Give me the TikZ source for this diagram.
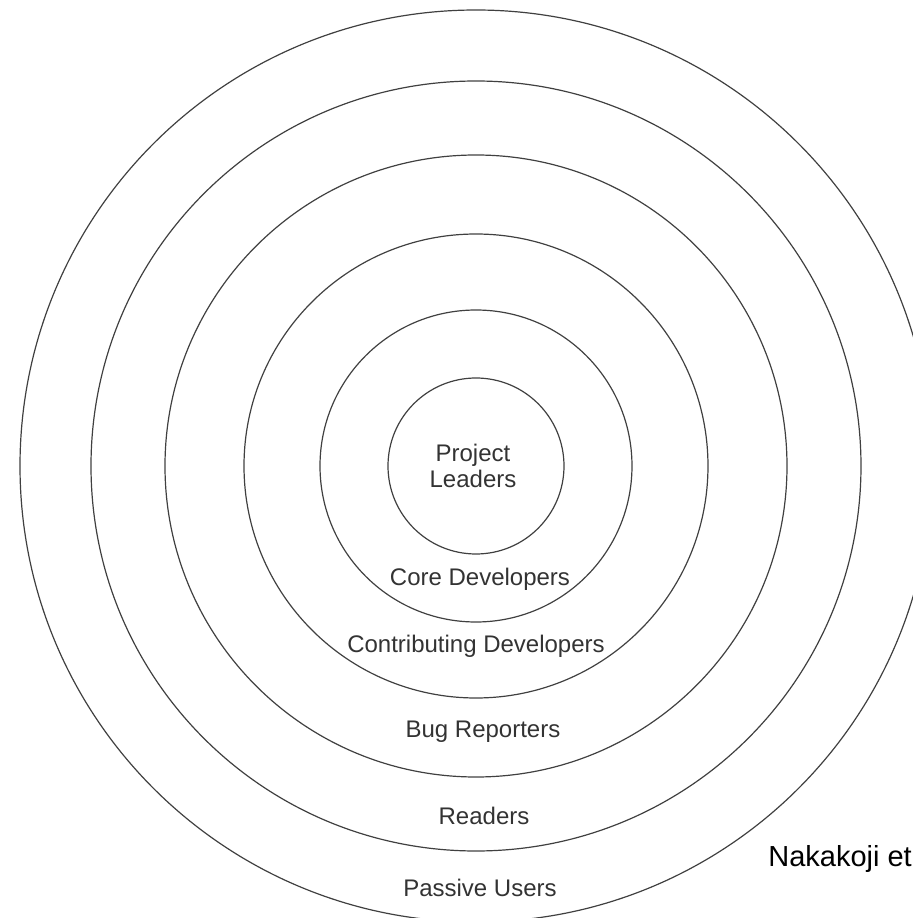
\documentclass[tikz,border=0pt]{standalone}
\usepackage{fontspec}
\setmainfont{Liberation Sans}
\usepackage{xcolor}
\usetikzlibrary{positioning}

\tikzset{
    ring/.style={draw=black!75, line width=0.6pt},
    layer/.style={text=black!80, font=\fontsize{12}{13}\selectfont, anchor=base, inner sep=0pt},
}

\begin{document}
\begin{tikzpicture}[x=0.5pt, y=0.5pt]
    % Page frame
    \useasboundingbox (0,0) rectangle (913,918);
    \clip (0,0) rectangle (913,918);

    % Rings of the onion
    \coordinate (ctr) at (476,452);
    \foreach \r in {88,156,232,311,385,456}
        \draw[ring] (ctr) circle (\r);

    % Layer labels
    \node[layer, align=center, anchor=center] (leaders) at (473,452) {Project\\Leaders};
    \node[layer] (core) at (480,332) {Core Developers};
    \node[layer] (contrib) at (476,265) {Contributing Developers};
    \node[layer] (bugs) at (483,180) {Bug Reporters};
    \node[layer] (readers) at (484,93) {Readers};
    \node[layer] (passive) at (480,21) {Passive Users};

    % Source note
    \node[anchor=base west, inner sep=0pt, font=\fontsize{14.5}{16}\selectfont] (src) at (768,52) {Nakakoji et};
\end{tikzpicture}
\end{document}
